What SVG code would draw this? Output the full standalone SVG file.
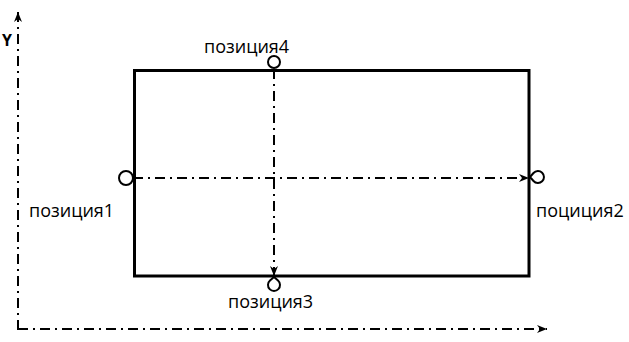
<svg xmlns="http://www.w3.org/2000/svg" width="629" height="342" viewBox="0 0 629 342">
<defs>
<style>
.lbl{font-family:"Open Sans","Liberation Sans",sans-serif;font-size:18px;fill:#000}
.dd{fill:none;stroke:#000;stroke-width:2;stroke-dasharray:10 5 2 5}
.mk{fill:#fff;stroke:#000;stroke-width:2}
</style>
<marker id="arr" viewBox="0 0 10 8" refX="10" refY="4" markerWidth="10" markerHeight="8" markerUnits="userSpaceOnUse" orient="auto">
<path d="M0,0 L10,4 L0,8 L3,4 Z" fill="#000"/>
</marker>
</defs>
<rect width="629" height="342" fill="#fff"/>
<g id="axes">
<path class="dd" d="M18,330 L18,12" marker-end="url(#arr)"/>
<path class="dd" d="M18,329 L547,329" marker-end="url(#arr)"/>
<text x="2" y="46" style="font-family:'Open Sans','Liberation Sans',sans-serif;font-size:16px;font-weight:bold">Y</text>
</g>
<g id="rect">
<rect x="134.5" y="70.5" width="394.5" height="205.5" fill="none" stroke="#000" stroke-width="3"/>
</g>
<g id="connectors">
<path class="dd" d="M133,178 L529,178" marker-end="url(#arr)"/>
<path class="dd" d="M274,69 L274,276" marker-end="url(#arr)"/>
</g>
<g id="pos1">
<circle class="mk" cx="126" cy="178" r="7"/>
<text class="lbl" x="29" y="217">позиция1</text>
</g>
<g id="pos2">
<path class="mk" d="M530,177 L533.5,173 A6,6 0 1 1 533.5,181 Z"/>
<text class="lbl" x="536" y="217">поциция2</text>
</g>
<g id="pos3">
<path class="mk" d="M274,277 L278,280.5 A6,6 0 1 1 270,280.5 Z"/>
<text class="lbl" x="228" y="308">позиция3</text>
</g>
<g id="pos4">
<circle class="mk" cx="274" cy="62" r="6"/>
<text class="lbl" x="204" y="53">позиция4</text>
</g>
</svg>
